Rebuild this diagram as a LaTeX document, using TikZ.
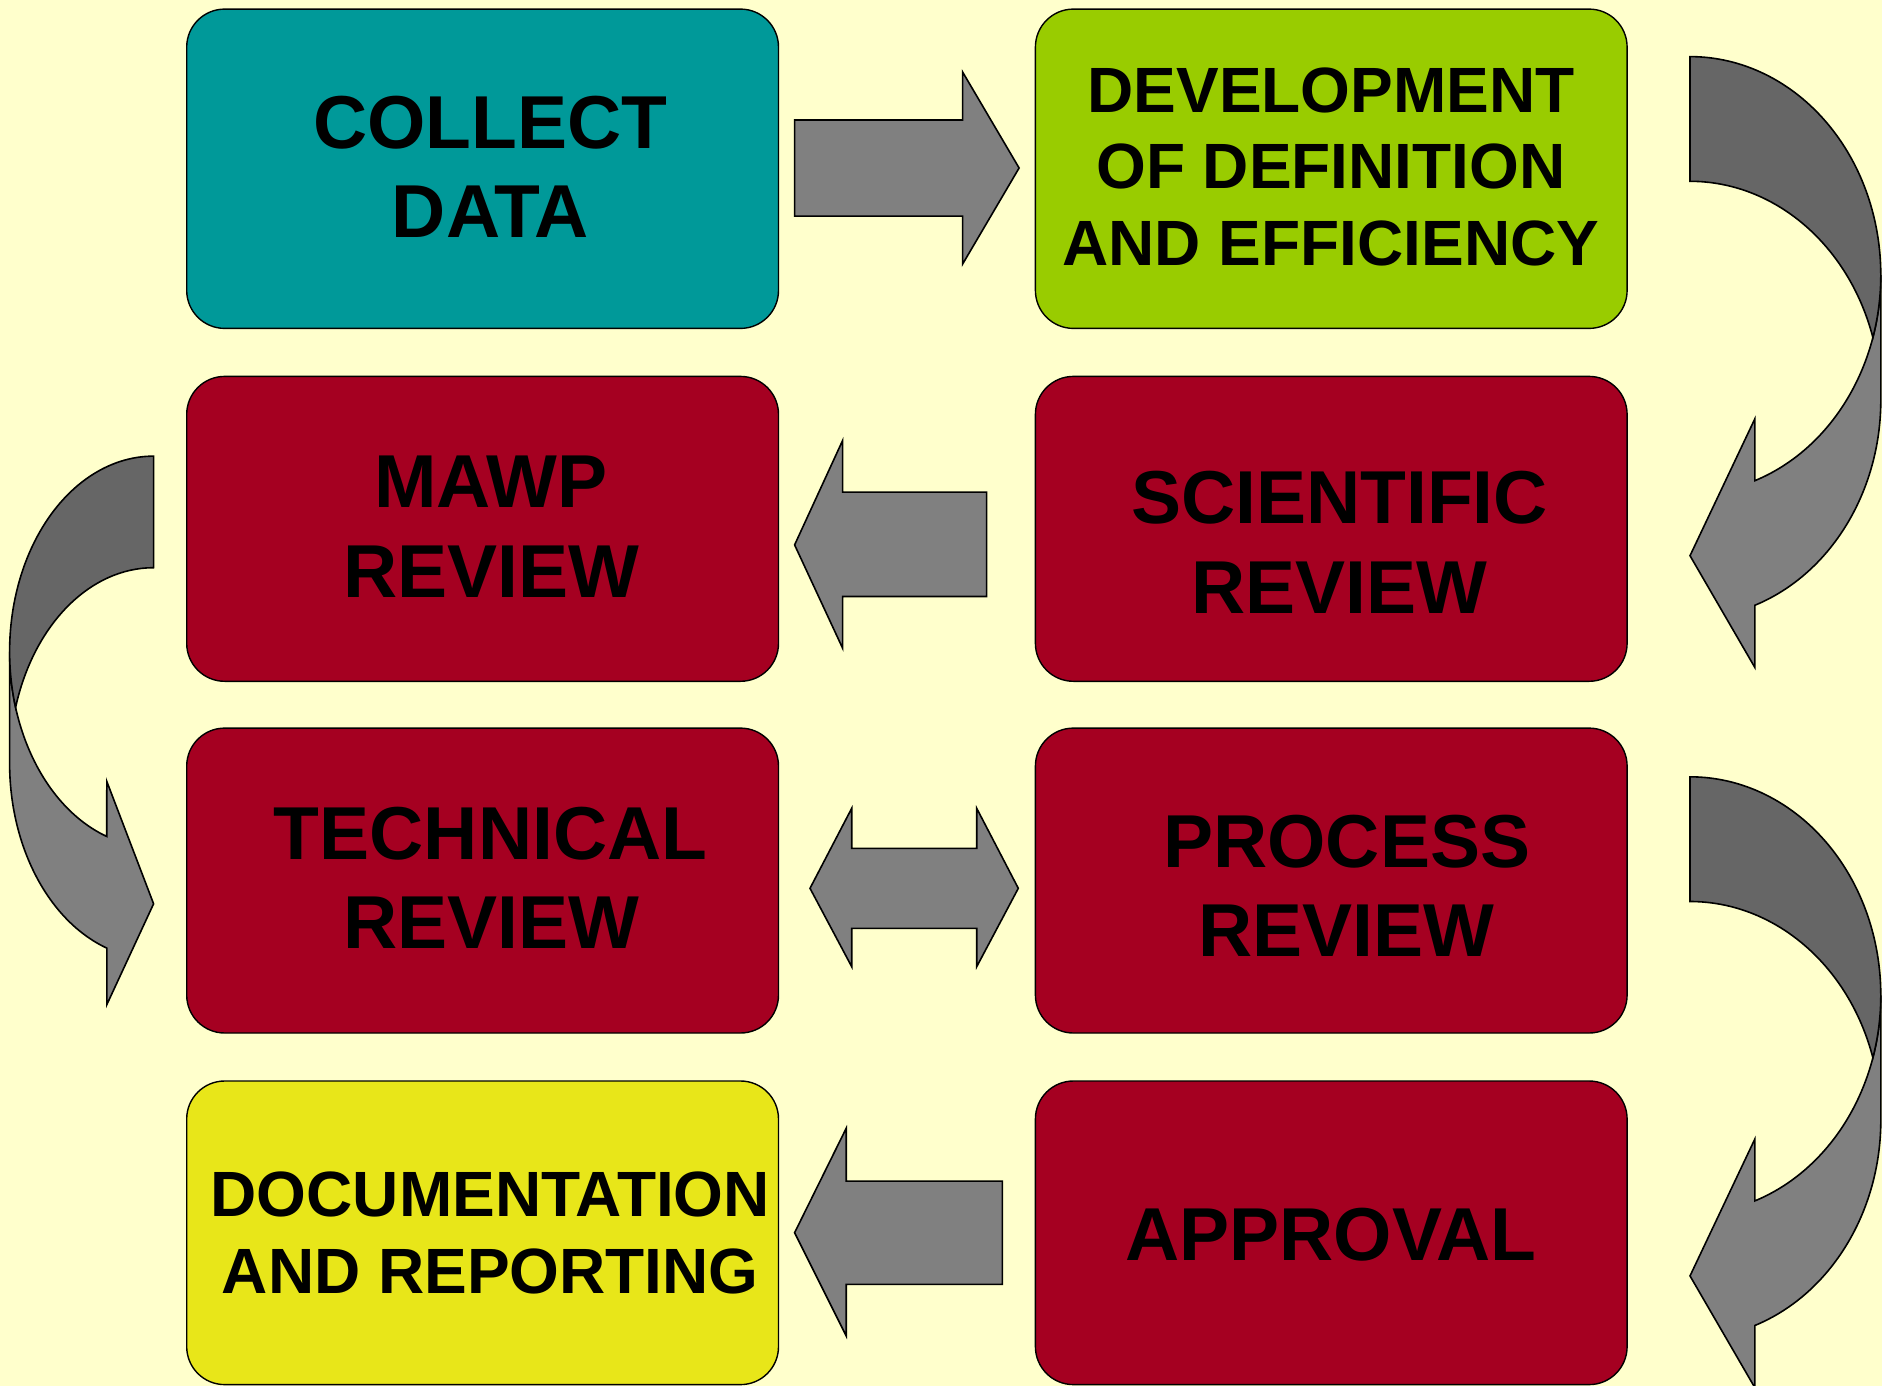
\documentclass[tikz,border=0pt]{standalone}
\usepackage{fontspec}
\setmainfont{Liberation Sans}
\definecolor{paper}{HTML}{FFFFCC}
\definecolor{tealbox}{HTML}{009999}
\definecolor{limebox}{HTML}{99CC00}
\definecolor{redbox}{HTML}{A50021}
\definecolor{yellowbox}{HTML}{E8E619}
\definecolor{arrowlight}{HTML}{808080}
\definecolor{arrowdark}{HTML}{666666}
\begin{document}
\begin{tikzpicture}[x=1pt,y=-1pt,
  box/.style={draw=black, line width=1.4pt, rounded corners=38pt, rectangle,
    anchor=north west, inner sep=0pt},
  bigtxt/.style={anchor=base, inner sep=0pt, font=\bfseries\fontsize{75}{90}\selectfont},
  smalltxt/.style={anchor=base, inner sep=0pt, font=\bfseries\fontsize{64}{76}\selectfont},
  blockarrow/.style={fill=arrowlight, draw=black, line width=1.6pt, line join=miter},
  bandlight/.style={fill=arrowlight, draw=black, line width=1.6pt, line join=miter},
  banddark/.style={fill=arrowdark, draw=black, line width=1.6pt, line join=miter},
]
% page and background
\useasboundingbox (0,0) rectangle (1882,1386);
\fill[paper] (0,0) rectangle (1882,1386);

% ---- process boxes ----
\node[box, fill=tealbox,   minimum width=591.8pt, minimum height=319.3pt] (collect)  at (186,8.4) {};
\node[box, fill=limebox,   minimum width=591.7pt, minimum height=319.3pt] (devel)    at (1034.7,8.4) {};
\node[box, fill=redbox,    minimum width=591.8pt, minimum height=304.9pt] (mawp)     at (186,375.7) {};
\node[box, fill=redbox,    minimum width=591.7pt, minimum height=304.9pt] (sci)      at (1034.7,375.7) {};
\node[box, fill=redbox,    minimum width=591.8pt, minimum height=304.9pt] (tech)     at (186,727.4) {};
\node[box, fill=redbox,    minimum width=591.7pt, minimum height=304.9pt] (proc)     at (1034.7,727.4) {};
\node[box, fill=yellowbox, minimum width=591.8pt, minimum height=303.6pt] (docu)     at (186,1080.3) {};
\node[box, fill=redbox,    minimum width=591.7pt, minimum height=303.6pt] (approval) at (1034.7,1080.3) {};

% ---- box texts ----
\node[bigtxt] (collectA) at (490.5,148.8) {COLLECT};
\node[bigtxt] (collectB) at (490.5,237.7) {DATA};

\node[smalltxt] (develA) at (1331,112.5) {DEVELOPMENT};
\node[smalltxt] (develB) at (1331,188.8) {OF DEFINITION};
\node[smalltxt] (develC) at (1331,265) {AND EFFICIENCY};

\node[bigtxt] (mawpA) at (491,507.7) {MAWP};
\node[bigtxt] (mawpB) at (491,597.7) {REVIEW};

\node[bigtxt] (sciA) at (1339.5,523.3) {SCIENTIFIC};
\node[bigtxt] (sciB) at (1339.5,613.3) {REVIEW};

\node[bigtxt] (techA) at (490.5,859.4) {TECHNICAL};
\node[bigtxt] (techB) at (491,948.2) {REVIEW};

\node[bigtxt] (procA) at (1346.7,867.8) {PROCESS};
\node[bigtxt] (procB) at (1346.7,956.6) {REVIEW};

\node[smalltxt] (docuA) at (490.3,1216.5) {DOCUMENTATION};
\node[smalltxt] (docuB) at (490.3,1293.5) {AND REPORTING};

\node[bigtxt] (approvalA) at (1331,1260) {APPROVAL};

% ---- straight block arrows between the columns ----
% collect -> development
\draw[blockarrow] (794.6,120) -- (962.6,120) -- (962.6,72) -- (1019.1,168)
  -- (962.6,264.1) -- (962.6,216.1) -- (794.6,216.1) -- cycle;
% scientific -> mawp
\draw[blockarrow] (986.6,492.1) -- (842.6,492.1) -- (842.6,440.5) -- (794.6,544.9)
  -- (842.6,648.2) -- (842.6,596.5) -- (986.6,596.5) -- cycle;
% technical <-> process
\draw[blockarrow] (810,888.3) -- (851.7,808.3) -- (851.7,848.3) -- (976.7,848.3)
  -- (976.7,808.3) -- (1018.3,888.3) -- (976.7,966.7) -- (976.7,928.3)
  -- (851.7,928.3) -- (851.7,966.7) -- cycle;
% approval -> documentation
\draw[blockarrow] (1002.3,1181.1) -- (846.2,1181.1) -- (846.2,1128.3) -- (794.6,1232.7)
  -- (846.2,1335.9) -- (846.2,1284.3) -- (1002.3,1284.3) -- cycle;

% ---- curved arrows on the right side (development -> scientific, process -> approval) ----
\foreach \dy in {0,720.2}{
  \begin{scope}[shift={(0,\dy)}]
    \draw[bandlight] (1880.8,275.2)
      arc[start angle=0, end angle=70.15, x radius=190.8, y radius=218.5]
      -- (1754.8,418.9) -- (1690,555.7) -- (1754.8,667.4) -- (1754.8,605.3)
      arc[start angle=70.15, end angle=0, x radius=190.8, y radius=218.5]
      -- cycle;
    \draw[banddark] (1690,181.3)
      arc[start angle=-90, end angle=-16.58, x radius=190.8, y radius=218.5]
      arc[start angle=16.58, end angle=-90, x radius=190.8, y radius=218.5]
      -- cycle;
  \end{scope}
}

% ---- curved arrow on the left side (mawp -> technical) ----
\draw[bandlight] (9.6,651.6)
  arc[start angle=180, end angle=108.97, x radius=144, y radius=195.5]
  -- (106.8,781.4) -- (153.6,903.8) -- (106.8,1004.7) -- (106.8,948.1)
  arc[start angle=108.97, end angle=180, x radius=144, y radius=195.5]
  -- cycle;
\draw[banddark] (153.6,567.7)
  arc[start angle=270, end angle=196.58, x radius=144, y radius=195.5]
  arc[start angle=163.42, end angle=270, x radius=144, y radius=195.5]
  -- cycle;
\end{tikzpicture}
\end{document}
